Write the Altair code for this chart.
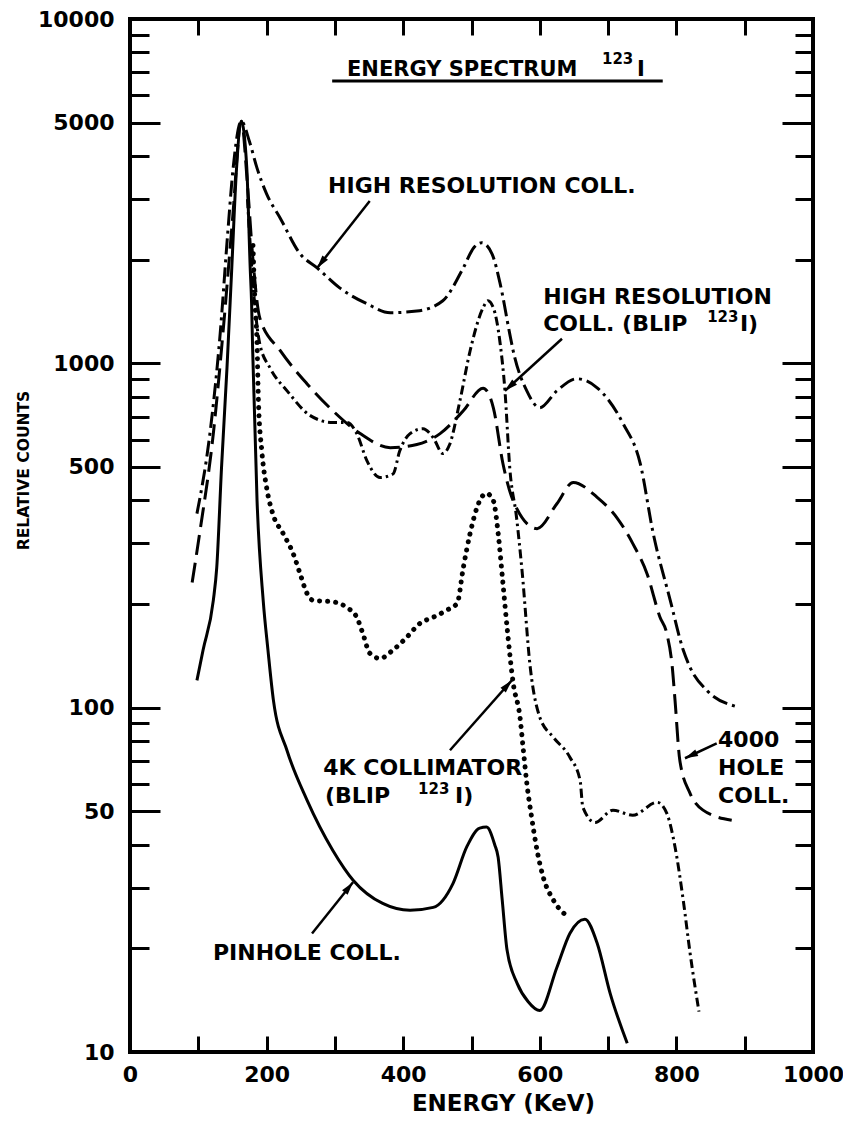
import math
import altair as alt
import pandas as pd

W, H = 683, 1033
FONT = "DejaVu Sans"

# ---------------- data: energy (keV) and relative counts ----------------
# HIGH RESOLUTION COLL. (dash-dot)
hr_e = [98, 117, 132, 143, 151, 163, 175, 186, 200, 220, 249, 274, 307, 347, 381, 420, 458, 488, 503, 515,
        530, 542, 556, 561, 581, 600, 625, 654, 684, 722, 747, 766, 791, 810, 820, 845, 886]
hr_v = [366, 625, 1218, 2377, 3690, 5050, 4400, 3690, 3105, 2640, 2080, 1893, 1656, 1489, 1403, 1418, 1520, 1893, 2163, 2240,
        2080, 1702, 1218, 1088, 832, 743, 832, 902, 849, 668, 512, 321, 205, 147, 131, 112, 101]

# HIGH RESOLUTION COLL. (BLIP 123I) (dash-dot-dot)
hb_e = [172, 180, 190, 205, 230, 264, 297, 318, 332, 347, 366, 385, 395, 410, 429, 444, 458, 468, 483, 498,
        517, 524, 532, 542, 549, 556, 566, 574, 586, 600, 620, 644, 659, 663, 681, 707, 736, 772, 786, 798,
        810, 820, 833]
hb_v = [3000, 1700, 1140, 970, 832, 705, 673, 673, 625, 521, 466, 477, 557, 625, 646, 608, 547, 581, 778, 1088,
        1450, 1520, 1450, 1140, 832, 498, 356, 250, 131, 93.8, 82, 71.8, 61.5, 51.4, 46.4, 50.4, 48.7, 53.1, 49.3, 39.4,
        27.6, 19.4, 13.1]

# 4000 HOLE COLL. (dashed)
h4_e = [91, 102, 122, 136, 150, 163, 172, 180, 190, 220, 259, 297, 337, 381, 420, 454, 488, 517, 532, 546,
        561, 596, 625, 649, 684, 713, 736, 757, 776, 786, 794, 798, 805, 820, 839, 881]
h4_v = [231, 321, 625, 1218, 2600, 5050, 3300, 2000, 1355, 1088, 873, 728, 625, 569, 581, 625, 728, 847, 743, 512,
        399, 331, 391, 451, 408, 356, 300, 245, 183, 164, 131, 105, 70.3, 56.4, 50.4, 47.1]

# 4K COLLIMATOR (BLIP 123I) (dotted)
k4_e = [180, 183, 186, 188, 193, 200, 209, 224, 239, 249, 259, 268, 297, 318, 332, 341, 351, 366, 385, 405,
        425, 444, 464, 479, 488, 498, 512, 522, 532, 539, 546, 553, 561, 571, 576, 581, 588, 596, 605, 620, 644]
k4_v = [2200, 1500, 1150, 780, 556, 436, 366, 321, 280, 245, 215, 205, 203, 195, 183, 164, 144, 139, 147, 160,
        176, 183, 192, 201, 255, 321, 399, 419, 399, 321, 230, 164, 118, 93.8, 75, 60.3, 48.1, 38.5, 32.2, 27.6, 24.5]

# PINHOLE COLL. (solid)
pin_e = [98, 107, 122, 127, 134, 142, 149, 156, 163, 171, 176, 178, 179.5, 186, 195, 202, 210, 230, 259, 297,
         327, 370, 410, 444, 473, 493, 512, 522, 534, 539, 545, 552, 567, 583, 600, 625, 644, 666, 684, 703, 728]
pin_v = [120, 147, 205, 255, 498, 970, 1890, 3690, 5050, 3690, 1890, 1500, 1110, 400, 205, 147, 105, 75, 54, 38.5,
         31.5, 27, 25.8, 26.3, 30.9, 39.4, 44.7, 45, 40, 36.8, 27.6, 19.8, 15.8, 14, 13.2, 17.6, 22.1, 24.3, 20.7, 14.8, 10.6]

series_names = ["HIGH RESOLUTION COLL.", "HIGH RESOLUTION COLL. (BLIP 123I)", "4000 HOLE COLL.",
                "4K COLLIMATOR (BLIP 123I)", "PINHOLE COLL."]
series_e = [hr_e, hb_e, h4_e, k4_e, pin_e]
series_v = [hr_v, hb_v, h4_v, k4_v, pin_v]

# axis tick values
x_label_vals = [0, 200, 400, 600, 800, 1000]
x_tick_vals = [100, 200, 300, 400, 500, 600, 700, 800, 900]
y_label_vals = [10, 50, 100, 500, 1000, 5000, 10000]
y_long_vals = [50, 100, 500, 1000, 5000]
y_short_vals = [20, 30, 40, 60, 70, 80, 90, 200, 300, 400, 600, 700, 800, 900,
                2000, 3000, 4000, 6000, 7000, 8000, 9000]

# annotations (text anchored in data coordinates)
title_text = ["ENERGY SPECTRUM", "I"]
title_e = [317.7, 742.3]
title_v = [6832, 6832]
uline_e1, uline_e2, uline_v = [296], [780], [6607]

lab_text = ["HIGH RESOLUTION COLL.", "HIGH RESOLUTION", "COLL. (BLIP", "I)",
            "4K COLLIMATOR", "(BLIP", "I)", "PINHOLE COLL.", "4000", "HOLE", "COLL."]
lab_e = [290, 605, 605, 893, 283, 285.5, 475.8, 121.5, 861, 861, 861]
lab_v = [3126, 1489, 1243, 1243, 63.6, 52.8, 52.8, 18.5, 76.7, 63.6, 52.8]

sup_text = ["123", "123", "123"]
sup_e = [691, 845, 421.7]
sup_v = [7406, 1320, 56.0]

arr_e1 = [351, 632.5, 468.5, 266.5, 859]
arr_v1 = [2963, 1179, 75.2, 22.1, 78.8]
arr_e2 = [274, 549, 559, 326.5, 812.6]
arr_v2 = [1893, 832, 120, 31.1, 71.3]

# ---------------- build tables ----------------
rows = []
for name, es, vs in zip(series_names, series_e, series_v):
    for e, v in zip(es, vs):
        rows.append({"series": name, "E": e, "V": v})
curves = pd.DataFrame(rows)


def px(e):
    return e / 1000 * W


def py(v):
    return H * (1 - (math.log10(v) - 1) / 3)


arrows = pd.DataFrame({"x1": arr_e1, "y1": arr_v1, "x2": arr_e2, "y2": arr_v2})
arrows["ang"] = [
    (math.degrees(math.atan2(px(b) - px(a), -(py(d) - py(c)))) + 360) % 360
    for a, c, b, d in zip(arr_e1, arr_v1, arr_e2, arr_v2)
]
labels = pd.DataFrame({"t": lab_text, "E": lab_e, "V": lab_v})
titles = pd.DataFrame({"t": title_text, "E": title_e, "V": title_v})
sups = pd.DataFrame({"t": sup_text, "E": sup_e, "V": sup_v})
uline = pd.DataFrame({"x1": uline_e1, "x2": uline_e2, "y1": uline_v})
dummy = pd.DataFrame({"E": [500], "V": [100]})

xs = alt.Scale(domain=[0, 1000], nice=False, zero=False)
ys = alt.Scale(type="log", domain=[10, 10000], nice=False)


def X(f, axis=None):
    return alt.X(f"{f}:Q", scale=xs, axis=axis)


def Y(f, axis=None):
    return alt.Y(f"{f}:Q", scale=ys, axis=axis)


label_common = dict(labelFont=FONT, labelFontWeight="bold", labelFontSize=22, labelColor="black",
                    labelFlush=False, labelOverlap=False, grid=False, domain=False, ticks=False, format="d")
x_main = alt.Axis(orient="bottom", values=x_label_vals, labelPadding=12, title="ENERGY (KeV)",
                  titleFont=FONT, titleFontWeight="bold", titleFontSize=23, titleColor="black",
                  titleX=373, titleY=58, titleBaseline="alphabetic", titleAlign="center", **label_common)
y_main = alt.Axis(orient="left", values=y_label_vals, labelPadding=16, title="RELATIVE COUNTS",
                  titleFont=FONT, titleFontWeight="bold", titleFontSize=15.5,
                  titleColor="black", titleAngle=270, titleX=-107, titleY=451, titleAlign="center",
                  titleBaseline="middle", **label_common)

tick_common = dict(labels=False, domain=False, grid=False, ticks=True, tickColor="black", tickWidth=3, title=None)
x_ticks_b = alt.Axis(orient="top", offset=-H, values=x_tick_vals, tickSize=16, **tick_common)
x_ticks_t = alt.Axis(orient="bottom", offset=-H, values=x_tick_vals, tickSize=16, **tick_common)
y_long_l = alt.Axis(orient="right", offset=-W, values=y_long_vals, tickSize=30, **tick_common)
y_short_l = alt.Axis(orient="right", offset=-W, values=y_short_vals, tickSize=19, **tick_common)
y_long_r = alt.Axis(orient="left", offset=-W, values=y_long_vals, tickSize=31, **tick_common)
y_short_r = alt.Axis(orient="left", offset=-W, values=y_short_vals, tickSize=18, **tick_common)

base_dummy = alt.Chart(dummy).mark_point(opacity=0)
layers = [
    base_dummy.encode(x=X("E", x_main), y=Y("V", y_main)),
    base_dummy.encode(x=X("E", x_ticks_b), y=Y("V", y_long_l)),
    base_dummy.encode(x=X("E", x_ticks_t), y=Y("V", y_short_l)),
    base_dummy.encode(x=X("E"), y=Y("V", y_long_r)),
    base_dummy.encode(x=X("E"), y=Y("V", y_short_r)),
]

styles = [
    dict(strokeDash=[16, 5, 3, 5], strokeWidth=3),
    dict(strokeDash=[9, 4, 2.5, 4], strokeWidth=3),
    dict(strokeDash=[20, 8], strokeWidth=3),
    dict(strokeDash=[0.1, 8], strokeWidth=5, strokeCap="round"),
    dict(strokeWidth=3),
]
for name, st in zip(series_names, styles):
    layers.append(
        alt.Chart(curves).transform_filter(alt.datum.series == name)
        .mark_line(interpolate="monotone", color="black", **st)
        .encode(x=X("E"), y=Y("V"), order="E:Q")
    )

text_kw = dict(align="left", baseline="alphabetic", font=FONT, fontWeight="bold", color="black")
layers.append(alt.Chart(titles).mark_text(fontSize=21, **text_kw).encode(x=X("E"), y=Y("V"), text="t:N"))
layers.append(alt.Chart(labels).mark_text(fontSize=22, **text_kw).encode(x=X("E"), y=Y("V"), text="t:N"))
layers.append(alt.Chart(sups).mark_text(fontSize=15, **text_kw).encode(x=X("E"), y=Y("V"), text="t:N"))
layers.append(
    alt.Chart(uline).mark_rule(color="black", strokeWidth=3)
    .encode(x=X("x1"), x2="x2:Q", y=Y("y1"))
)
layers.append(
    alt.Chart(arrows).mark_rule(color="black", strokeWidth=2.5)
    .encode(x=X("x1"), y=Y("y1"), x2="x2:Q", y2="y2:Q")
)
layers.append(
    alt.Chart(arrows).mark_point(shape="M0,0L0.55,2L-0.55,2Z", filled=True, size=170, color="black",
                                 opacity=1, strokeWidth=0)
    .encode(x=X("x2"), y=Y("y2"), angle=alt.Angle("ang:Q", scale=None))
)

chart = (
    alt.layer(*layers)
    .resolve_axis(x="independent", y="independent")
    .properties(width=W, height=H, autosize=alt.AutoSizeParams(type="none"),
                padding={"left": 122, "top": 11, "right": 30, "bottom": 65})
    .configure_view(stroke="black", strokeWidth=4)
)

chart.save("out.html", embed_options={"renderer": "svg", "actions": False})
